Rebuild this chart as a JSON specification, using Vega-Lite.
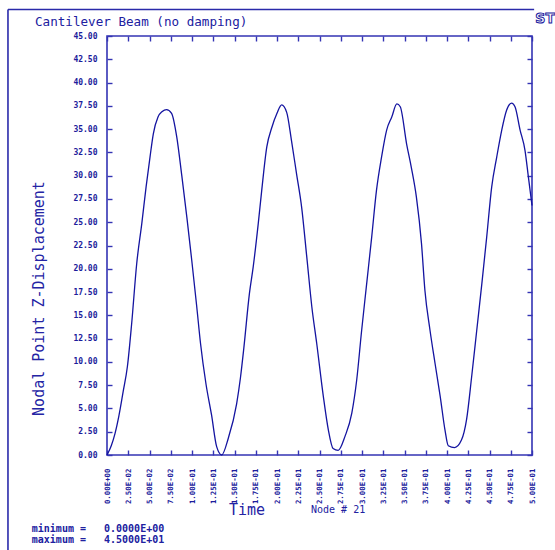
{
  "$schema": "https://vega.github.io/schema/vega-lite/v6.json",
  "width": 425,
  "height": 419,
  "autosize": {"type": "none"},
  "padding": {"left": 107, "top": 36, "right": 23, "bottom": 95},
  "background": "white",
  "config": {
    "view": {"stroke": "#3434b4", "strokeWidth": 1.6},
    "axis": {
      "grid": false,
      "domain": false,
      "offset": -5,
      "tickColor": "#3434b4",
      "tickWidth": 1.4,
      "tickSize": 5,
      "labelColor": "#1c1c9c",
      "labelFont": "DejaVu Sans Mono",
      "labelFontWeight": "bold",
      "titleColor": "#2424a4",
      "titleFont": "DejaVu Sans Mono",
      "titleFontWeight": "normal"
    }
  },
  "title": {
    "text": "Cantilever Beam (no damping)",
    "anchor": "start",
    "frame": "group",
    "dx": -72,
    "offset": -20,
    "font": "DejaVu Sans Mono",
    "fontSize": 12.6,
    "fontWeight": "normal",
    "color": "#2020a0"
  },
  "resolve": {"axis": {"x": "independent", "y": "independent"}},
  "layer": [
    {
      "data": {
        "values": [
          {"t": 0, "z": 0}, {"t": 0.005, "z": 1.0}, {"t": 0.0094, "z": 2.3}, {"t": 0.014, "z": 4.2},
          {"t": 0.019, "z": 6.8}, {"t": 0.024, "z": 9.5}, {"t": 0.029, "z": 14.1}, {"t": 0.035, "z": 20.6},
          {"t": 0.041, "z": 24.9}, {"t": 0.046, "z": 28.8}, {"t": 0.0506, "z": 32.0}, {"t": 0.0545, "z": 34.5},
          {"t": 0.06, "z": 36.3}, {"t": 0.065, "z": 36.9}, {"t": 0.07, "z": 37.1}, {"t": 0.076, "z": 36.7},
          {"t": 0.082, "z": 34.2}, {"t": 0.088, "z": 30.0}, {"t": 0.094, "z": 25.5}, {"t": 0.0996, "z": 21.0},
          {"t": 0.1055, "z": 16.0}, {"t": 0.11, "z": 12.0}, {"t": 0.1165, "z": 7.6}, {"t": 0.123, "z": 4.3},
          {"t": 0.129, "z": 0.9}, {"t": 0.135, "z": 0.0}, {"t": 0.1427, "z": 1.8}, {"t": 0.1525, "z": 5.5},
          {"t": 0.157, "z": 8.3}, {"t": 0.161, "z": 11.5}, {"t": 0.1675, "z": 17.3}, {"t": 0.172, "z": 20.2},
          {"t": 0.178, "z": 24.9}, {"t": 0.182, "z": 28.4}, {"t": 0.188, "z": 33.1}, {"t": 0.194, "z": 35.2},
          {"t": 0.2, "z": 36.7}, {"t": 0.2055, "z": 37.6}, {"t": 0.2114, "z": 36.8}, {"t": 0.217, "z": 33.8},
          {"t": 0.223, "z": 30.2}, {"t": 0.229, "z": 26.6}, {"t": 0.235, "z": 21.3}, {"t": 0.241, "z": 15.9},
          {"t": 0.2467, "z": 12.0}, {"t": 0.2545, "z": 6.3}, {"t": 0.2604, "z": 2.7}, {"t": 0.266, "z": 0.7},
          {"t": 0.272, "z": 0.5}, {"t": 0.28, "z": 2.0}, {"t": 0.288, "z": 4.5}, {"t": 0.2937, "z": 8.0},
          {"t": 0.2996, "z": 13.4}, {"t": 0.3055, "z": 18.4}, {"t": 0.3114, "z": 23.4}, {"t": 0.317, "z": 28.4},
          {"t": 0.323, "z": 32.0}, {"t": 0.329, "z": 34.9}, {"t": 0.335, "z": 36.3}, {"t": 0.341, "z": 37.7},
          {"t": 0.345, "z": 37.4}, {"t": 0.3525, "z": 33.4}, {"t": 0.358, "z": 30.9}, {"t": 0.364, "z": 27.7},
          {"t": 0.37, "z": 22.7}, {"t": 0.374, "z": 17.7}, {"t": 0.38, "z": 13.4}, {"t": 0.386, "z": 9.8},
          {"t": 0.392, "z": 6.3}, {"t": 0.3976, "z": 2.7}, {"t": 0.4015, "z": 1.0}, {"t": 0.409, "z": 0.8},
          {"t": 0.417, "z": 1.6}, {"t": 0.423, "z": 3.8}, {"t": 0.429, "z": 8.4}, {"t": 0.435, "z": 13.4},
          {"t": 0.441, "z": 18.4}, {"t": 0.4467, "z": 23.4}, {"t": 0.4526, "z": 28.8}, {"t": 0.4585, "z": 32.0},
          {"t": 0.4644, "z": 34.9}, {"t": 0.47, "z": 37.0}, {"t": 0.476, "z": 37.8}, {"t": 0.48, "z": 37.4},
          {"t": 0.486, "z": 34.9}, {"t": 0.4918, "z": 32.7}, {"t": 0.4957, "z": 29.9}, {"t": 0.5, "z": 26.8}
        ]
      },
      "layer": [
        {
          "mark": {"type": "line", "color": "#1414a0", "strokeWidth": 1.3, "interpolate": "monotone"},
          "encoding": {
            "x": {
              "field": "t", "type": "quantitative",
              "scale": {"domain": [0, 0.5], "nice": false, "zero": false},
              "axis": {
                "orient": "bottom",
                "values": [0, 0.025, 0.05, 0.075, 0.1, 0.125, 0.15, 0.175, 0.2, 0.225, 0.25, 0.275, 0.3, 0.325, 0.35, 0.375, 0.4, 0.425, 0.45, 0.475, 0.5],
                "labelExpr": "replace(replace(format(datum.value, '.2e'), 'e-', 'E-0'), 'e+', 'E+0')",
                "labelAngle": 270,
                "labelAlign": "right",
                "labelBaseline": "middle",
                "labelFontSize": 7.4,
                "labelPadding": 13,
                "labelOverlap": false,
                "labelFlush": false,
                "title": "Time",
                "titleFontSize": 15,
                "titleX": 139.5,
                "titleY": 64,
                "titleAlign": "center",
                "titleBaseline": "alphabetic",
                "titleAngle": 0
              }
            },
            "y": {
              "field": "z", "type": "quantitative",
              "scale": {"domain": [0, 45], "nice": false, "zero": false},
              "axis": {
                "orient": "left",
                "values": [0, 2.5, 5, 7.5, 10, 12.5, 15, 17.5, 20, 22.5, 25, 27.5, 30, 32.5, 35, 37.5, 40, 42.5, 45],
                "format": ".2f",
                "labelFontSize": 8,
                "labelPadding": 10,
                "labelOverlap": false,
                "labelFlush": false,
                "title": "Nodal Point Z-Displacement",
                "titleFontSize": 15,
                "titleAngle": 270,
                "titleX": -74,
                "titleY": 262,
                "titleAlign": "center",
                "titleBaseline": "middle"
              }
            }
          }
        },
        {
          "mark": {"type": "line", "strokeOpacity": 0},
          "encoding": {
            "x": {
              "field": "t", "type": "quantitative",
              "scale": {"domain": [0, 0.5], "nice": false, "zero": false},
              "axis": {
                "orient": "top",
                "values": [0, 0.025, 0.05, 0.075, 0.1, 0.125, 0.15, 0.175, 0.2, 0.225, 0.25, 0.275, 0.3, 0.325, 0.35, 0.375, 0.4, 0.425, 0.45, 0.475, 0.5],
                "labels": false,
                "title": null
              }
            },
            "y": {
              "field": "z", "type": "quantitative",
              "scale": {"domain": [0, 45], "nice": false, "zero": false},
              "axis": {
                "orient": "right",
                "values": [0, 2.5, 5, 7.5, 10, 12.5, 15, 17.5, 20, 22.5, 25, 27.5, 30, 32.5, 35, 37.5, 40, 42.5, 45],
                "labels": false,
                "title": null
              }
            }
          }
        }
      ]
    },
    {
      "data": {"values": [{}]},
      "layer": [
        {
          "mark": {"type": "rule", "color": "#2a2aaa", "strokeWidth": 1.6},
          "encoding": {
            "x": {"datum": -0.1165, "type": "quantitative", "axis": null},
            "y": {"datum": 47.85, "type": "quantitative", "axis": null},
            "y2": {"datum": -10.3}
          }
        },
        {
          "mark": {"type": "rule", "color": "#2a2aaa", "strokeWidth": 1.6},
          "encoding": {
            "x": {"datum": -0.1165, "type": "quantitative", "axis": null},
            "x2": {"datum": 0.5025},
            "y": {"datum": 47.85, "type": "quantitative", "axis": null}
          }
        },
        {
          "mark": {"type": "text", "text": "ST", "font": "DejaVu Sans", "fontWeight": "bold", "fontSize": 14, "fill": "white", "stroke": "#2020a0", "strokeWidth": 1, "align": "center", "baseline": "middle"},
          "encoding": {
            "x": {"datum": 0.5155, "type": "quantitative", "axis": null},
            "y": {"datum": 46.8, "type": "quantitative", "axis": null}
          }
        },
        {
          "mark": {"type": "text", "text": "Node # 21", "font": "DejaVu Sans Mono", "fontSize": 10, "color": "#2020a0", "align": "left", "baseline": "alphabetic"},
          "encoding": {
            "x": {"datum": 0.24, "type": "quantitative", "axis": null},
            "y": {"datum": -6.25, "type": "quantitative", "axis": null}
          }
        },
        {
          "mark": {"type": "text", "text": ["minimum =\u00a0\u00a0\u00a00.0000E+00", "maximum =\u00a0\u00a0\u00a04.5000E+01"], "lineHeight": 11, "font": "DejaVu Sans Mono", "fontSize": 10, "fontWeight": "bold", "color": "#2020a0", "align": "left", "baseline": "alphabetic"},
          "encoding": {
            "x": {"datum": -0.0885, "type": "quantitative", "axis": null},
            "y": {"datum": -8.25, "type": "quantitative", "axis": null}
          }
        }
      ]
    }
  ]
}
